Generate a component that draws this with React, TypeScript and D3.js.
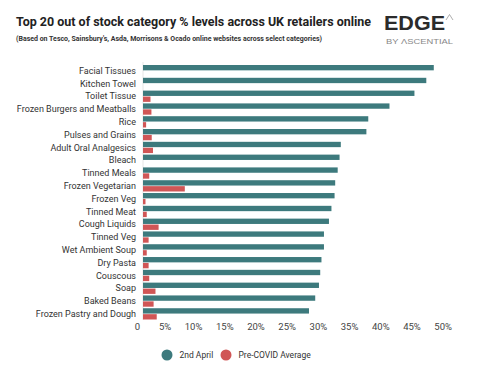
import React from 'react';
import * as d3 from 'd3';

const categories = [
  'Facial Tissues', 'Kitchen Towel', 'Toilet Tissue', 'Frozen Burgers and Meatballs', 'Rice',
  'Pulses and Grains', 'Adult Oral Analgesics', 'Bleach', 'Tinned Meals', 'Frozen Vegetarian',
  'Frozen Veg', 'Tinned Meat', 'Cough Liquids', 'Tinned Veg', 'Wet Ambient Soup',
  'Dry Pasta', 'Couscous', 'Soap', 'Baked Beans', 'Frozen Pastry and Dough',
];
const april2nd = [46.6, 45.4, 43.5, 39.5, 36.1, 35.8, 31.7, 31.5, 31.2, 30.8, 30.7, 30.2, 29.8, 29.0, 29.0, 28.6, 28.4, 28.2, 27.6, 26.6];
const preCovid = [0, 0, 1.2, 1.35, 0.5, 1.4, 1.6, 0, 1.0, 6.7, 0.4, 0.6, 2.5, 0.9, 0.6, 0.9, 1.0, 2.0, 1.7, 2.2];
const seriesNames = ['2nd April', 'Pre-COVID Average'];
const ticks = [0, 5, 10, 15, 20, 25, 30, 35, 40, 45, 50];

const TEAL = '#3d7a7d';
const RED = '#d05656';
const LABEL_FONT = 'Roboto, "Noto Sans", sans-serif';
const TITLE_FONT = 'Roboto, "Liberation Sans", Arial, sans-serif';

export default function App() {
  const x = d3.scaleLinear().domain([0, 50]).range([143, 455]);
  const y = d3.scaleBand().domain(categories).range([65, 319.5]).paddingInner(0.12);
  const sub = d3.scaleBand().domain(seriesNames).range([0, y.bandwidth()]).paddingInner(0.1);
  const color = d3.scaleOrdinal<string>().domain(seriesNames).range([TEAL, RED]);
  const values = [april2nd, preCovid];

  return (
    <svg width={480} height={369} style={{ position: 'absolute', left: 0, top: 0, background: '#fff' }}>
      <text x={16} y={26} fontFamily={TITLE_FONT} fontWeight="bold" fontSize={12} fill="#222"
        textLength={355} lengthAdjust="spacingAndGlyphs">
        Top 20 out of stock category % levels across UK retailers online
      </text>
      <text x={16} y={41} fontFamily={TITLE_FONT} fontWeight="bold" fontSize={6.8} fill="#333"
        textLength={306} lengthAdjust="spacingAndGlyphs">
        (Based on Tesco, Sainsbury's, Asda, Morrisons &amp; Ocado online websites across select categories)
      </text>

      {/* logo */}
      <text x={384} y={30} fontFamily='"Liberation Sans", Arial, sans-serif' fontWeight="bold" fontSize={21} fill="#2b2b2b"
        textLength={61} lengthAdjust="spacingAndGlyphs">EDGE</text>
      <path d="M446,20 L449.5,14.5 L453,20" fill="none" stroke="#9a9a9a" strokeWidth={0.8} />
      <text x={386} y={44} fontFamily='"Liberation Sans", Arial, sans-serif' fontSize={7} fill="#888"
        textLength={67} lengthAdjust="spacingAndGlyphs">BY ΛSCENTIAL</text>

      <line x1={x(0)} x2={x(0)} y1={62} y2={320} stroke="#e6e6e6" strokeWidth={1} />

      {categories.map((c, i) => (
        <g key={c} transform={`translate(0,${y(c)})`}>
          <text x={136} y={y.bandwidth() / 2} dy="0.35em" textAnchor="end" fontFamily={LABEL_FONT}
            fontSize={9} fill="#333">{c}</text>
          {seriesNames.map((s, k) => (
            <rect key={s} x={x(0)} y={sub(s)} width={Math.max(0, x(values[k][i]) - x(0))}
              height={sub.bandwidth()} fill={color(s)} />
          ))}
        </g>
      ))}

      {ticks.map(t => (
        <text key={t} x={x(t) - 3} y={327} dy="0.35em" textAnchor="end" fontFamily={LABEL_FONT}
          fontSize={9.5} fill="#444">{t === 0 ? '0' : `${t}%`}</text>
      ))}

      {seriesNames.map((s, k) => {
        const lx = [167, 226][k];
        return (
          <g key={s}>
            <circle cx={lx} cy={355} r={5.5} fill={color(s)} />
            <text x={lx + 12.5} y={355} dy="0.35em" fontFamily={LABEL_FONT} fontSize={8.5} fill="#333">{s}</text>
          </g>
        );
      })}
    </svg>
  );
}
